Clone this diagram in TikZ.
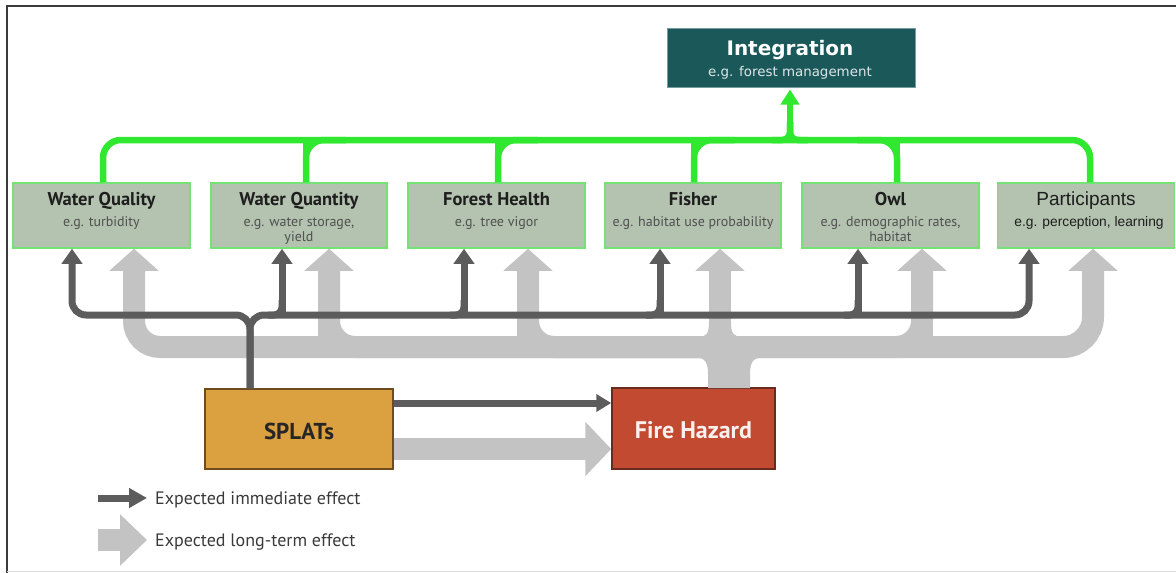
\documentclass[tikz,border=0pt]{standalone}
\usepackage{fontspec}
\setmainfont{PT Sans}
\newfontfamily\intfont{DejaVu Sans}
\newfontfamily\arfont{Liberation Sans}
\usetikzlibrary{arrows.meta}
\definecolor{intfill}{HTML}{1B585A}
\definecolor{boxfill}{HTML}{B3C3AF}
\definecolor{boxline}{HTML}{74E274}
\definecolor{greenline}{HTML}{30E830}
\definecolor{dgray}{HTML}{5C5C5C}
\definecolor{lgray}{HTML}{C3C3C3}
\definecolor{splfill}{HTML}{DBA03F}
\definecolor{splline}{HTML}{6E4C1E}
\definecolor{firefill}{HTML}{C24A31}
\definecolor{fireline}{HTML}{6A2A1E}
\definecolor{titlecol}{HTML}{1E1E1E}
\definecolor{subcol}{HTML}{505050}
\definecolor{framecol}{HTML}{3A3A3A}
\tikzset{
  box/.style={draw=boxline, line width=1.5pt, fill=boxfill, minimum width=#1, minimum height=65pt, inner sep=0pt},
  ttl/.style={anchor=base, text=titlecol, font=\fontsize{18.5}{20}\selectfont\bfseries, inner sep=0pt},
  sub/.style={anchor=base, text=subcol, font=\fontsize{14}{16}\selectfont, inner sep=0pt},
  dark/.style={draw=dgray, line width=7pt},
  darktip/.style={-{Triangle[width=20pt,length=15pt]}},
  light/.style={draw=lgray, line width=22pt},
  lighttip/.style={-{Triangle[width=48pt,length=22pt]}},
  grn/.style={draw=greenline, line width=6.5pt},
  legtext/.style={anchor=base west, text=framecol, font=\fontsize{18}{20}\selectfont, inner sep=0pt}
}
\begin{document}
\begin{tikzpicture}[x=1pt,y=-1pt]
\useasboundingbox (0,0) rectangle (1176,573);
% frame
\draw[framecol, line width=2pt] (7,573) -- (7,6) -- (1176,6);
\draw[lgray!60, line width=1pt] (7,571) -- (1176,571);

% boxes
\node[draw=intfill!60!white, line width=1pt, fill=intfill, minimum width=248pt, minimum height=59pt, inner sep=0pt] (integ) at (791,57.5) {};
\node[box=177pt] (wq) at (101.5,215.5) {};
\node[box=176pt] (wq2) at (299,215.5) {};
\node[box=177pt] (fh) at (496.5,215.5) {};
\node[box=176pt] (fi) at (693,215.5) {};
\node[box=177pt] (ow) at (890.5,215.5) {};
\node[box=177pt] (pa) at (1086,215.5) {};
\node[draw=splline, line width=1.5pt, fill=splfill, minimum width=188pt, minimum height=80pt, inner sep=0pt] (spl) at (299,429) {};
\node[draw=fireline, line width=1.5pt, fill=firefill, minimum width=163pt, minimum height=81pt, inner sep=0pt] (fire) at (693.5,428.5) {};

% texts
\node[anchor=base, text=white, font=\intfont\bfseries\fontsize{20}{22}\selectfont, inner sep=0pt] (integt) at (790,55) {Integration};
\node[anchor=base, text=white!85!intfill, font=\intfont\fontsize{13.4}{15}\selectfont, inner sep=0pt] (integs) at (790,76) {e.g. forest management};

\node[ttl] (wqt) at (101.5,205) {Water Quality};
\node[sub] (wqs) at (101.5,226) {e.g. turbidity};
\node[ttl] (wq2t) at (299,205) {Water Quantity};
\node[sub] (wq2s) at (299,226) {e.g. water storage,};
\node[sub] (wq2s2) at (299,241) {yield};
\node[ttl] (fht) at (496.5,205) {Forest Health};
\node[sub] (fhs) at (496.5,226) {e.g. tree vigor};
\node[ttl] (fit) at (693,205) {Fisher};
\node[sub] (fis) at (693,226) {e.g. habitat use probability};
\node[ttl] (owt) at (890.5,205) {Owl};
\node[sub] (ows) at (890.5,226) {e.g. demographic rates,};
\node[sub] (ows2) at (890.5,241) {habitat};
\node[ttl, font=\arfont\fontsize{19}{21}\selectfont] (pat) at (1086,205) {Participants};
\node[sub, font=\arfont\fontsize{13.8}{15}\selectfont, text=titlecol] (pas) at (1089,226) {e.g. perception, learning};

\node[anchor=base, text=black!85, font=\fontsize{23}{25}\selectfont\bfseries, inner sep=0pt] (splt) at (299,439) {SPLATs};
\node[anchor=base, text=white!92!firefill, font=\fontsize{24}{26}\selectfont\bfseries, inner sep=0pt] (firet) at (693.5,438) {Fire Hazard};

% ---------- light gray (long-term) network
\coordinate (lj) at (729,347);
\fill[lgray] (708,388) -- (708,374) .. controls (708,359) and (703,357) .. (690,357) -- (768,357) .. controls (755,357) and (750,359) .. (750,374) -- (750,388) -- cycle;
\fill[lgray] (698,337) .. controls (707,337) and (709,333) .. (709,322) -- (731,322) .. controls (731,333) and (733,337) .. (743,337) -- cycle;
\draw[light, rounded corners=26pt, lighttip] (lj) -- (134,347) -- (134,250 |- wq.south);
\draw[light, rounded corners=26pt, lighttip] (lj) -- (329,347) -- (329,250 |- wq2.south);
\draw[light] (329,347) -- (329,300);
\draw[light, rounded corners=26pt, lighttip] (lj) -- (528,347) -- (528,250 |- fh.south);
\draw[light] (528,347) -- (528,300);
\draw[light, lighttip] (720,388 |- fire.north) -- (720,250 |- fi.south);
\draw[light, rounded corners=26pt, lighttip] (lj) -- (922,347) -- (922,250 |- ow.south);
\draw[light] (922,347) -- (922,300);
\draw[light, rounded corners=30pt, lighttip] (lj) -- (1093,347) -- (1093,250 |- pa.south);
% SPLATs -> Fire (long-term)
\draw[light, -{Triangle[width=53pt,length=26pt]}] (spl.east |- 0,449) -- (fire.west |- 0,449);

% ---------- dark gray (immediate) network
\coordinate (dj) at (250,315);
\draw[dark, rounded corners=14pt, darktip] (250,0 |- spl.north) -- (dj) -- (72,315) -- (72,250 |- wq.south);
\draw[dark, rounded corners=14pt, darktip] (250,0 |- spl.north) -- (dj) -- (1029,315) -- (1029,250 |- pa.south);
\foreach \x/\n in {282/wq2, 464/fh, 660/fi, 858/ow} {
  \draw[dark, darktip] (\x,315) -- (\x,0 |- \n.south);
  \draw[dark, rounded corners=8pt] (\x-14,315) -- (\x,315) -- (\x,300);
}
% SPLATs -> Fire (immediate)
\draw[dark, -{Triangle[width=17pt,length=15pt]}] (spl.east |- 0,403) -- (fire.west |- 0,403);

% ---------- green (integration) network
\coordinate (gj) at (790,140);
\draw[grn, rounded corners=18pt] (103,0 |- wq.north) -- (103,140) -- (gj);
\draw[grn, rounded corners=18pt] (1090,0 |- pa.north) -- (1090,140) -- (gj);
\foreach \x/\n in {306/wq2, 498/fh, 694/fi} {
  \draw[grn, rounded corners=18pt] (\x,0 |- \n.north) -- (\x,140) -- (\x+40,140);
  \draw[grn] (\x,0 |- \n.north) -- (\x,140);
}
\draw[grn, rounded corners=18pt] (897,0 |- ow.north) -- (897,140) -- (857,140);
\draw[grn] (897,0 |- ow.north) -- (897,140);
\draw[grn, -{Triangle[width=18pt,length=15pt]}, shorten >=2pt] (gj) -- (integ.south -| gj);
\draw[grn, rounded corners=8pt] (772,140) -- (790,140) -- (790,122);
\draw[grn, rounded corners=8pt] (808,140) -- (790,140) -- (790,122);

% ---------- legend
\coordinate (la1) at (98,498);
\coordinate (la2) at (147,498);
\coordinate (lb1) at (98,540);
\coordinate (lb2) at (147,540);
\draw[dark, -{Triangle[width=19pt,length=18pt]}] (la1) -- (la2);
\draw[light, -{Triangle[width=50pt,length=27pt]}] (lb1) -- (lb2);
\node[legtext] (lta) at (155,504) {Expected immediate effect};
\node[legtext] (ltb) at (155,546) {Expected long-term effect};
\end{tikzpicture}
\end{document}
